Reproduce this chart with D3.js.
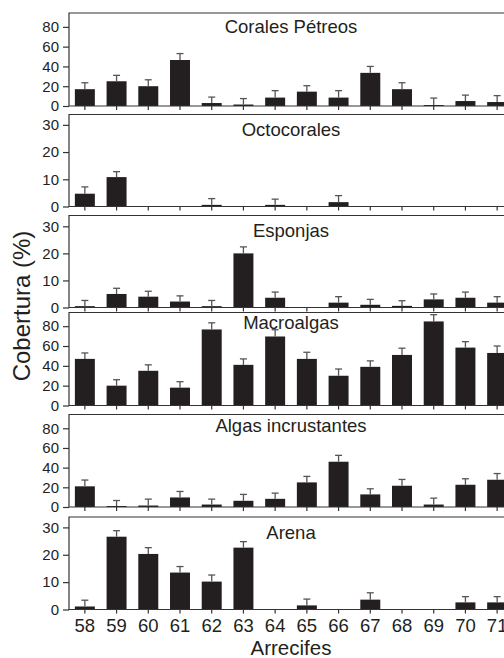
<!DOCTYPE html>
<html>
<head>
<meta charset="utf-8">
<script src="https://cdn.jsdelivr.net/npm/d3@7"></script>
<style>
  body { margin: 0; background: #fff; }
  svg { display: block; font-family: "Liberation Sans", Arial, sans-serif; }
</style>
</head>
<body>
<svg id="chart" width="504" height="658"></svg>
<script>
// reef numbers on the x axis
const reefs = ["58", "59", "60", "61", "62", "63", "64", "65", "66", "67", "68", "69", "70", "71"];

// mean cover (%) and error (upper bar) per reef
const coralesPetreos    = [17, 25, 20, 46.5, 3, 1.5, 8.5, 14.5, 8.5, 33.5, 17, 1, 5, 4];
const coralesPetreosErr = [6.5, 6, 6.5, 6.5, 6, 6, 7, 6, 7, 6.5, 6.5, 7, 6, 6.5];

const octocorales    = [4.7, 10.8, 0, 0, 0.6, 0, 0.6, 0, 1.6, 0, 0, 0, 0, 0];
const octocoralesErr = [2.5, 2, 0, 0, 2.3, 0, 2.1, 0, 2.4, 0, 0, 0, 0, 0];

const esponjas    = [0.5, 5, 4, 2.2, 0.5, 20, 3.6, 0, 1.8, 1, 0.6, 3, 3.6, 1.8];
const esponjasErr = [2.1, 2.1, 2, 2.1, 2.1, 2.4, 2.1, 0, 2.2, 2, 1.9, 2, 2.1, 2.2];

const macroalgas    = [47, 20, 35, 18, 76.7, 41, 69.6, 47, 30, 39, 51, 84.8, 58.4, 53];
const macroalgasErr = [6, 6, 6, 6, 6.7, 6, 6.8, 6.7, 6.8, 6, 6.8, 6.8, 6, 7];

const algasIncrustantes    = [21, 1, 1.5, 9.7, 2.5, 6.3, 8.3, 25, 46, 12.8, 21.6, 2.5, 22.6, 27.7];
const algasIncrustantesErr = [6.4, 5.6, 6.5, 6.1, 5.5, 6.5, 5.8, 6.1, 6.5, 5.7, 6.4, 6.5, 6.1, 6.3];

const arena    = [1.1, 26.6, 20.3, 13.5, 10.2, 22.6, 0, 1.5, 0, 3.6, 0, 0, 2.6, 2.6];
const arenaErr = [2.3, 2.2, 2.3, 2.2, 2.4, 2.2, 0, 2.3, 0, 2.5, 0, 0, 2.1, 2.1];

const titles = ["Corales Pétreos", "Octocorales", "Esponjas", "Macroalgas", "Algas incrustantes", "Arena"];
const wideTicks = [0, 20, 40, 60, 80];
const narrowTicks = [0, 10, 20, 30];

const series = [
  { values: coralesPetreos, err: coralesPetreosErr, max: 94, ticks: wideTicks },
  { values: octocorales, err: octocoralesErr, max: 33.8, ticks: narrowTicks },
  { values: esponjas, err: esponjasErr, max: 34, ticks: narrowTicks },
  { values: macroalgas, err: macroalgasErr, max: 93.8, ticks: wideTicks },
  { values: algasIncrustantes, err: algasIncrustantesErr, max: 94, ticks: wideTicks },
  { values: arena, err: arenaErr, max: 33.8, ticks: narrowTicks }
];

// panel placement (pixel top, pixel zero line, title baseline offset)
const layout = [
  { top: 13, bottom: 106, titleY: 20 },
  { top: 114.5, bottom: 206.5, titleY: 21 },
  { top: 215.5, bottom: 307.5, titleY: 21.5 },
  { top: 312.5, bottom: 405.5, titleY: 16 },
  { top: 414.5, bottom: 507, titleY: 17 },
  { top: 517, bottom: 609.5, titleY: 22 }
];

const svg = d3.select("#chart");
const left = 69, right = 513;
const ink = "#231f20";

const x = d3.scaleBand()
  .domain(reefs)
  .range([left, right])
  .paddingInner(0.37)
  .paddingOuter(0.185);

series.forEach((s, k) => {
  const L = layout[k];
  const y = d3.scaleLinear().domain([0, s.max]).range([L.bottom, L.top]);
  const g = svg.append("g");
  const rows = reefs.map((r, i) => ({ reef: r, v: s.values[i], e: s.err[i] }));

  // bars
  g.selectAll("rect.bar")
    .data(rows.filter(d => d.v > 0))
    .enter().append("rect")
      .attr("class", "bar")
      .attr("x", d => x(d.reef))
      .attr("width", x.bandwidth())
      .attr("y", d => y(d.v))
      .attr("height", d => y(0) - y(d.v))
      .attr("fill", ink);

  // upper error bars
  const eb = g.selectAll("g.err")
    .data(rows.filter(d => d.v > 0 && d.e > 0))
    .enter().append("g")
      .attr("class", "err")
      .attr("stroke", "#555")
      .attr("stroke-width", 1.3);
  eb.append("line")
    .attr("x1", d => x(d.reef) + x.bandwidth() / 2)
    .attr("x2", d => x(d.reef) + x.bandwidth() / 2)
    .attr("y1", d => y(d.v))
    .attr("y2", d => y(d.v + d.e));
  eb.append("line")
    .attr("x1", d => x(d.reef) + x.bandwidth() / 2 - 3.5)
    .attr("x2", d => x(d.reef) + x.bandwidth() / 2 + 3.5)
    .attr("y1", d => y(d.v + d.e))
    .attr("y2", d => y(d.v + d.e));

  // y axis
  const yAxis = g.append("g")
    .attr("transform", `translate(${left},0)`)
    .call(d3.axisLeft(y).tickValues(s.ticks).tickSize(6).tickPadding(4));
  yAxis.select(".domain").remove();
  yAxis.selectAll("line").attr("stroke", "#333").attr("stroke-width", 1.2);
  yAxis.selectAll("text")
    .attr("fill", ink)
    .style("font-size", "15px")
    .style("font-family", "'Liberation Sans', Arial, sans-serif");

  // x axis (ticks on every panel, labels only on the last one)
  const xAxis = g.append("g")
    .attr("transform", `translate(0,${L.bottom})`)
    .call(d3.axisBottom(x).tickSize(4).tickSizeOuter(0).tickPadding(5));
  xAxis.select(".domain").remove();
  xAxis.selectAll("line").attr("stroke", "#333").attr("stroke-width", 1.2);
  if (k === series.length - 1) {
    xAxis.selectAll("text")
      .attr("fill", ink)
      .style("font-size", "18.5px")
      .style("font-family", "'Liberation Sans', Arial, sans-serif");
  } else {
    xAxis.selectAll("text").remove();
  }

  // frame: left, top and bottom lines
  g.append("path")
    .attr("d", `M${right},${L.top}H${left}V${L.bottom}H${right}`)
    .attr("fill", "none")
    .attr("stroke", "#333")
    .attr("stroke-width", 1.2);

  g.append("text")
    .attr("x", (left + right) / 2)
    .attr("y", L.top + L.titleY)
    .attr("text-anchor", "middle")
    .attr("fill", ink)
    .style("font-size", "18.5px")
    .text(titles[k]);
});

svg.append("text")
  .attr("transform", "translate(30,306) rotate(-90)")
  .attr("text-anchor", "middle")
  .attr("fill", ink)
  .style("font-size", "24px")
  .text("Cobertura (%)");

svg.append("text")
  .attr("x", (left + right) / 2)
  .attr("y", 655)
  .attr("text-anchor", "middle")
  .attr("fill", ink)
  .style("font-size", "20.5px")
  .text("Arrecifes");
</script>
</body>
</html>
